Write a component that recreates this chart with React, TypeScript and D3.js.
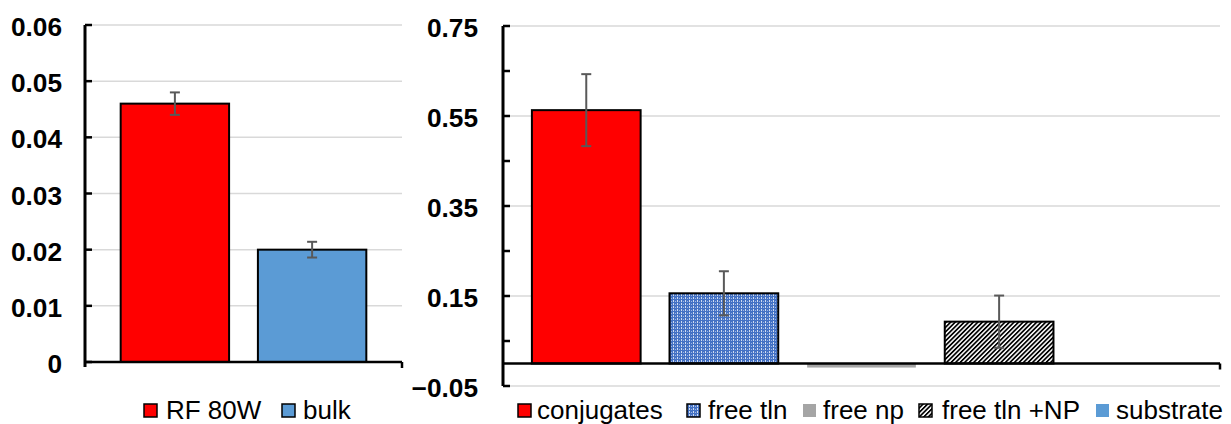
import React from "react";
import * as d3 from "d3";

// Left panel: two samples
const leftSeries = ["RF 80W", "bulk"];
const leftValues = [0.046, 0.02];
const leftErrors = [0.002, 0.0014];
const leftTicks = [0, 0.01, 0.02, 0.03, 0.04, 0.05, 0.06];

// Right panel: five treatments
const rightSeries = ["conjugates", "free tln", "free np", "free tln +NP", "substrate"];
const rightValues = [0.563, 0.156, -0.009, 0.093, 0];
const rightErrors = [0.08, 0.049, null, 0.058, null];
const rightLabelTicks = [-0.05, 0.15, 0.35, 0.55, 0.75];
const rightMinorTicks = [-0.05, 0.05, 0.15, 0.25, 0.35, 0.45, 0.55, 0.65, 0.75];

const W = 1231;
const H = 424;
const FONT = "'Liberation Sans', Arial, sans-serif";
const GRID = "#d9d9d9";
const ERR = "#595959";
const STRETCH = 1.04;

type Fill = { fill: string; stroke: string | null };
const leftFills: Fill[] = [
  { fill: "#ff0000", stroke: "#000" },
  { fill: "#5b9bd5", stroke: "#000" },
];
const rightFills: Fill[] = [
  { fill: "#ff0000", stroke: "#000" },
  { fill: "url(#dots)", stroke: "#000" },
  { fill: "#a5a5a5", stroke: null },
  { fill: "url(#hatch)", stroke: "#000" },
  { fill: "#5b9bd5", stroke: null },
];

// legend item offsets (square left edge, text left edge)
const leftLegendX = [[144, 166], [282, 303]];
const rightLegendX = [[518, 537], [687, 708], [803, 823], [919, 942], [1096, 1116]];

type PanelProps = {
  series: string[];
  values: number[];
  errors: (number | null)[];
  fills: Fill[];
  x0: number;
  x1: number;
  domain: [number, number];
  yTop: number;
  yBottom: number;
  labelTicks: number[];
  tickMarks: number[];
  fmt: (v: number) => string;
  padInner: number;
  padOuter: number;
  labelRight: number;
  legendX: number[][];
};

function Panel(p: PanelProps) {
  const y = d3.scaleLinear().domain(p.domain).range([p.yBottom, p.yTop]);
  const x = d3
    .scaleBand<string>()
    .domain(p.series)
    .range([p.x0, p.x1])
    .paddingInner(p.padInner)
    .paddingOuter(p.padOuter);
  const y0 = y(0);
  const bw = x.bandwidth();
  return (
    <g>
      {/* gridlines */}
      {p.labelTicks.map((t) => (
        <line key={"g" + t} x1={p.x0} x2={p.x1} y1={y(t)} y2={y(t)} stroke={GRID} strokeWidth={1.5} />
      ))}
      {/* bars */}
      {p.series.map((s, i) => {
        const v = p.values[i];
        if (v === 0) return null;
        const top = Math.min(y(v), y0);
        const h = Math.abs(y(v) - y0);
        const f = p.fills[i];
        return (
          <rect
            key={"b" + s}
            x={x(s)}
            y={top}
            width={bw}
            height={h}
            fill={f.fill}
            stroke={f.stroke ?? "none"}
            strokeWidth={2}
          />
        );
      })}
      {/* error bars */}
      {p.series.map((s, i) => {
        const e = p.errors[i];
        if (e == null) return null;
        const cx = (x(s) ?? 0) + bw / 2;
        const v = p.values[i];
        return (
          <g key={"e" + s} stroke={ERR} strokeWidth={2}>
            <line x1={cx} x2={cx} y1={y(v + e)} y2={y(v - e)} />
            <line x1={cx - 5} x2={cx + 5} y1={y(v + e)} y2={y(v + e)} />
            <line x1={cx - 5} x2={cx + 5} y1={y(v - e)} y2={y(v - e)} />
          </g>
        );
      })}
      {/* axes */}
      <line x1={p.x0} x2={p.x0} y1={y(p.domain[1])} y2={Math.max(y(p.domain[0]), y0 + 5)} stroke="#000" strokeWidth={3} />
      <line x1={p.x0} x2={p.x1} y1={y0} y2={y0} stroke="#000" strokeWidth={2.5} />
      <line x1={p.x1} x2={p.x1} y1={y0} y2={y0 + 6} stroke="#000" strokeWidth={2.5} />
      {p.tickMarks.map((t) => (
        <line key={"t" + t} x1={p.x0} x2={p.x0 + 7} y1={y(t)} y2={y(t)} stroke="#000" strokeWidth={2.5} />
      ))}
      {p.labelTicks.map((t) => (
        <text
          key={"l" + t}
          transform={`translate(${p.labelRight},${y(t) + 11}) scale(${STRETCH + 0.01},1)`}
          textAnchor="end"
          fontFamily={FONT}
          fontWeight="bold"
          fontSize={25}
          fill="#000"
        >
          {p.fmt(t)}
        </text>
      ))}
      {/* legend */}
      {p.series.map((s, i) => {
        const f = p.fills[i];
        const [sx, tx] = p.legendX[i];
        return (
          <g key={"lg" + s}>
            <rect
              x={sx}
              y={404}
              width={13}
              height={13}
              fill={f.fill}
              stroke={f.stroke ?? "none"}
              strokeWidth={1.5}
            />
            <text
              transform={`translate(${tx},419) scale(${STRETCH},1)`}
              fontFamily={FONT}
              fontSize={25}
              fill="#000"
            >
              {s}
            </text>
          </g>
        );
      })}
    </g>
  );
}

export default function App() {
  return (
    <svg width={W} height={H} style={{ display: "block", position: "absolute", left: 0, top: 0, background: "#fff" }}>
      <defs>
        <pattern id="dots" width={4} height={3} patternUnits="userSpaceOnUse">
          <rect width={4} height={3} fill="#4472c4" />
          <rect x={1} y={0} width={1} height={2} fill="#ffffff" opacity={0.75} />
          <rect x={3} y={1} width={1} height={1} fill="#9db4e4" />
        </pattern>
        <pattern id="hatch" width={3.2} height={3.2} patternUnits="userSpaceOnUse" patternTransform="rotate(45)">
          <rect width={3.2} height={3.2} fill="#fff" />
          <rect x={0} y={0} width={1.7} height={3.2} fill="#000" />
        </pattern>
      </defs>
      <rect width={W} height={H} fill="#fff" />
      <Panel
        series={leftSeries}
        values={leftValues}
        errors={leftErrors}
        fills={leftFills}
        x0={85}
        x1={402}
        domain={[0, 0.06]}
        yTop={25}
        yBottom={362}
        labelTicks={leftTicks}
        tickMarks={leftTicks}
        fmt={(v) => (v === 0 ? "0" : d3.format(".2f")(v))}
        padInner={0.21}
        padOuter={0.26}
        labelRight={62}
        legendX={leftLegendX}
      />
      <Panel
        series={rightSeries}
        values={rightValues}
        errors={rightErrors}
        fills={rightFills}
        x0={503}
        x1={1220}
        domain={[-0.05, 0.75]}
        yTop={26}
        yBottom={386}
        labelTicks={rightLabelTicks}
        tickMarks={rightMinorTicks}
        fmt={(v) => d3.format(".2f")(v)}
        padInner={0.21}
        padOuter={0.21}
        labelRight={478}
        legendX={rightLegendX}
      />
    </svg>
  );
}
